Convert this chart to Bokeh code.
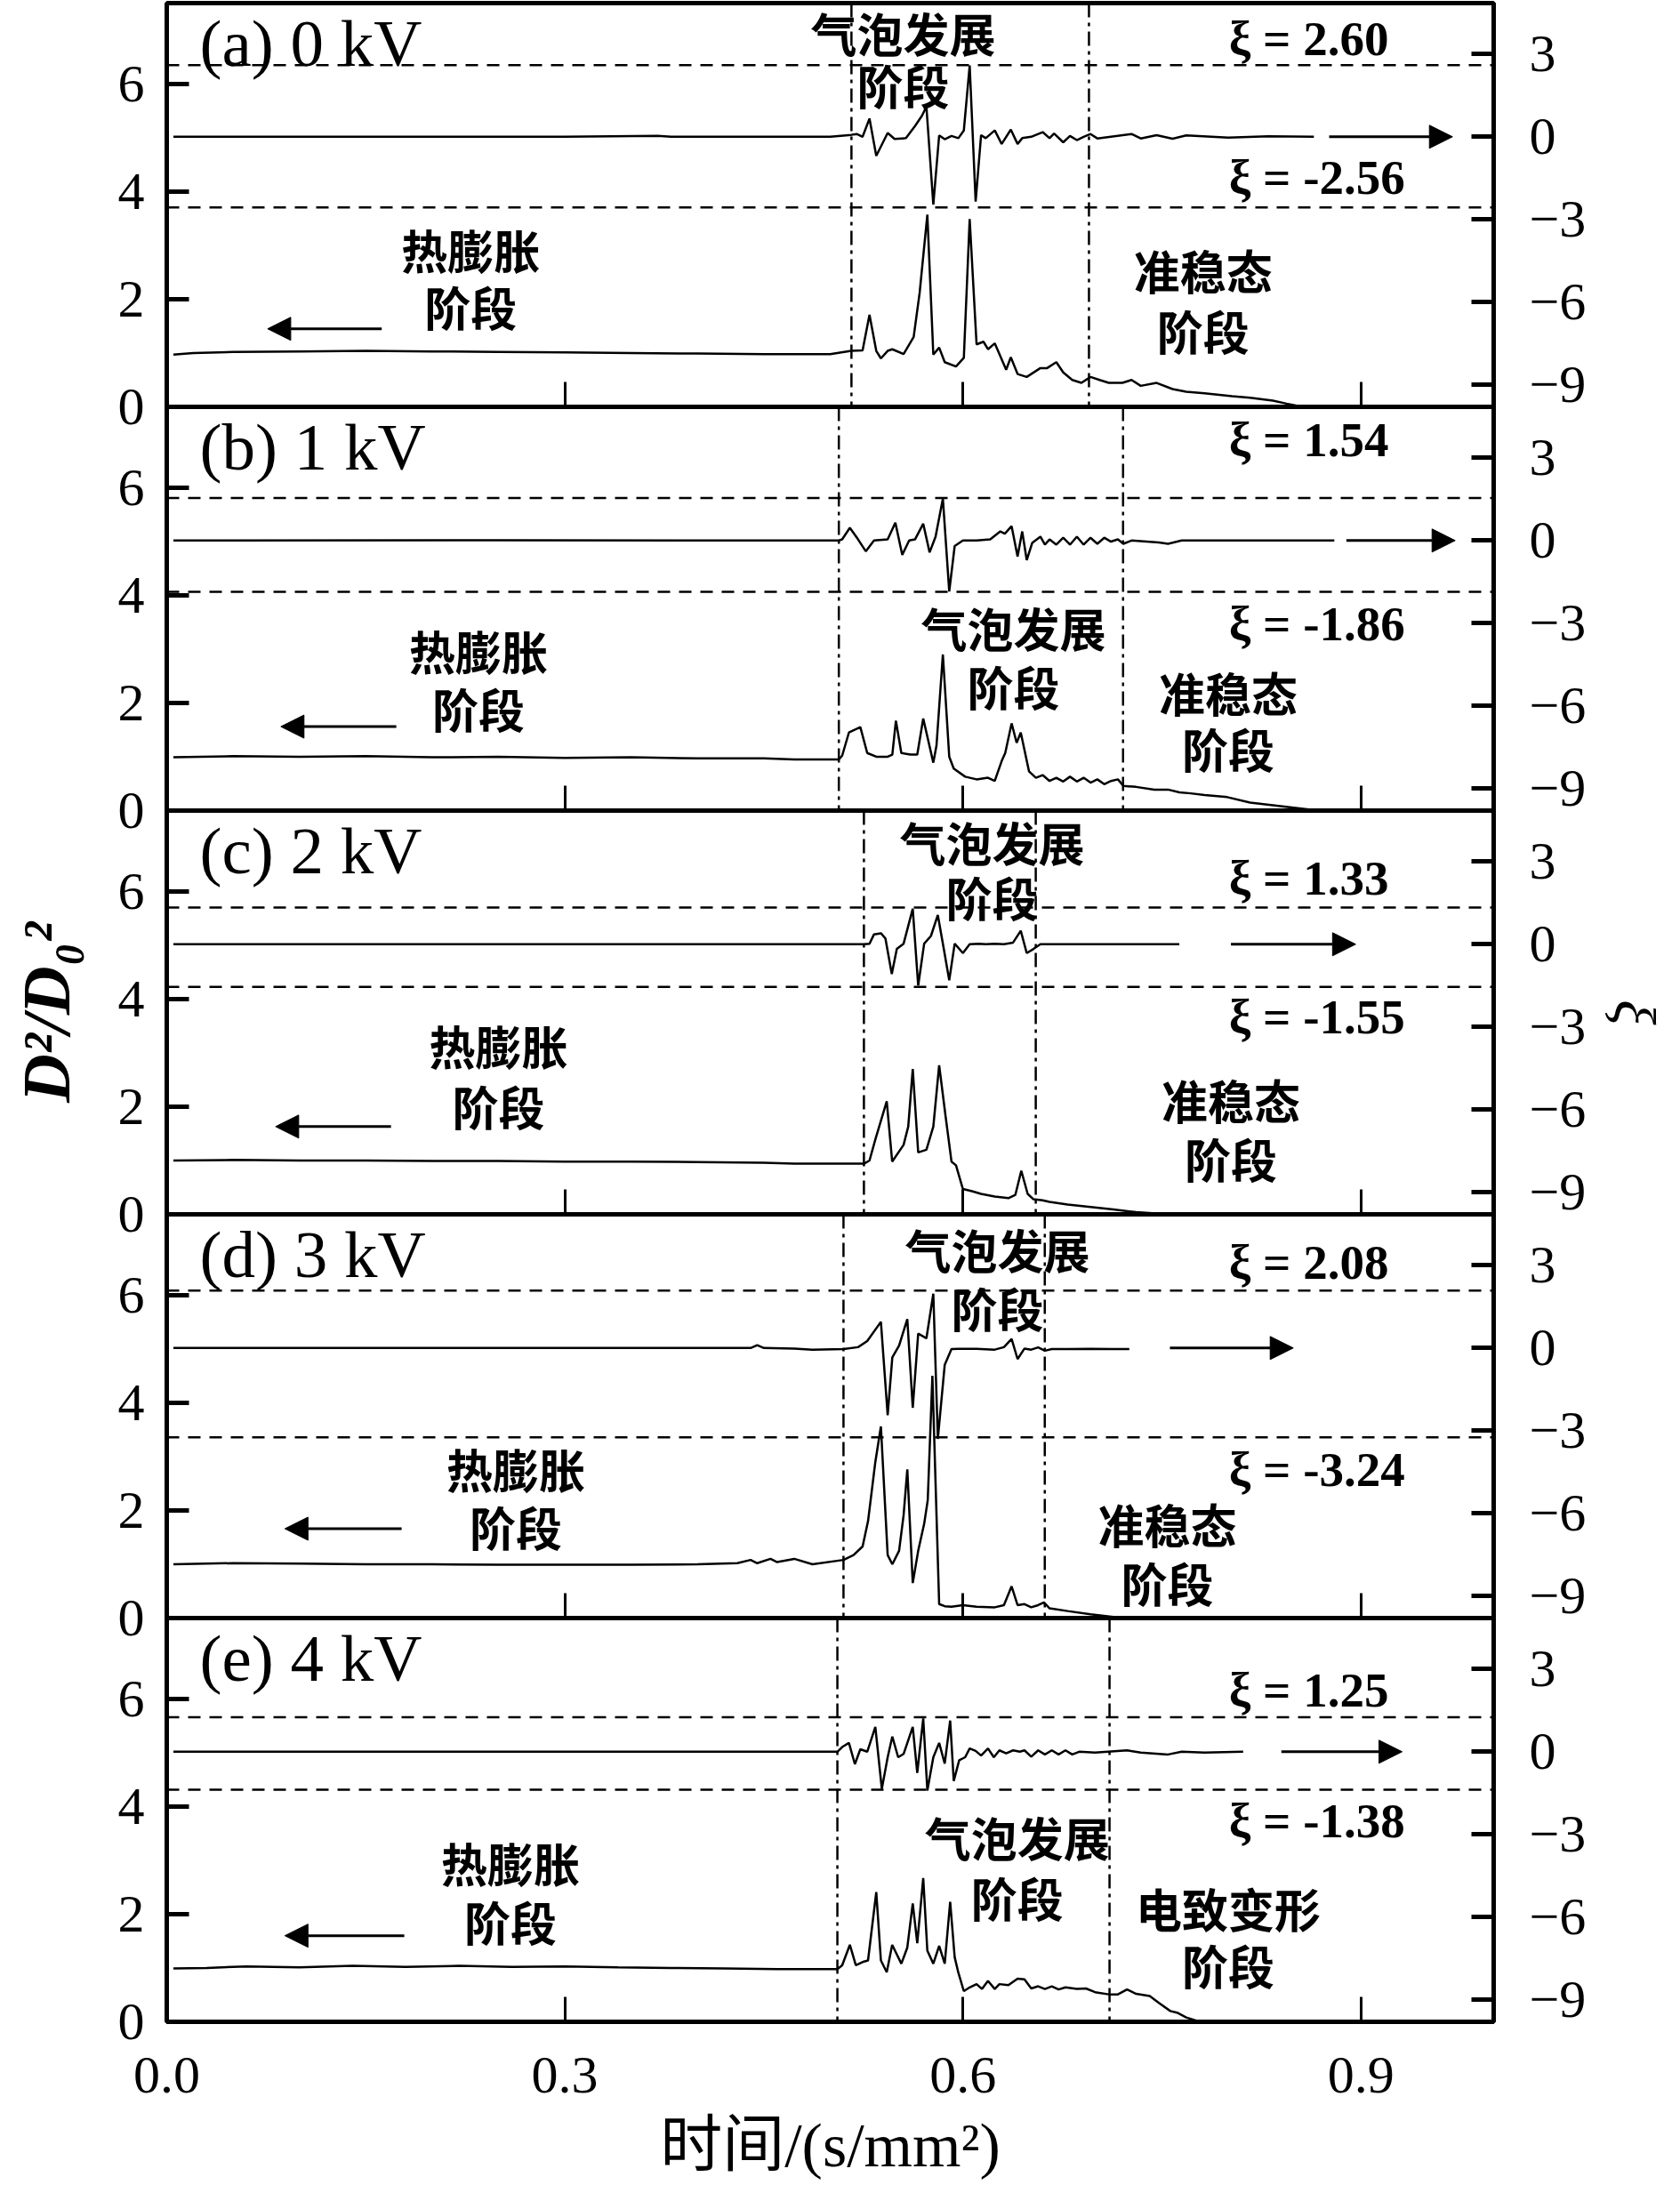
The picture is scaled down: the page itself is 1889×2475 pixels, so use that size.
from bokeh.plotting import figure
from bokeh.models import (Range1d, LinearAxis, FixedTicker, Span, Arrow, NormalHead,
                          CustomJSTickFormatter, NumeralTickFormatter)
from bokeh.layouts import column
from bokeh.embed import file_html
from bokeh.resources import INLINE
from bokeh.core.properties import value

# ---------------- data (time, value) ----------------
panel_titles = ["(a) 0 kV", "(b) 1 kV", "(c) 2 kV", "(d) 3 kV", "(e) 4 kV"]

a_D = [(0.005, 0.97), (0.02, 1.00), (0.05, 1.02), (0.10, 1.03), (0.15, 1.04), (0.20, 1.03), (0.25, 1.02),
       (0.30, 1.01), (0.35, 1.00), (0.40, 0.99), (0.45, 0.98), (0.50, 0.98), (0.5158, 1.04), (0.5244, 1.05),
       (0.5296, 1.71), (0.5347, 1.04), (0.5382, 0.90), (0.5433, 1.04), (0.5468, 1.07), (0.5553, 0.98),
       (0.5629, 1.30), (0.5674, 2.12), (0.5732, 3.57), (0.5777, 0.97), (0.5821, 1.10), (0.5863, 0.83),
       (0.5948, 0.75), (0.6007, 0.91), (0.6051, 3.49), (0.6103, 1.16), (0.6155, 1.21), (0.6189, 1.07),
       (0.6240, 1.18), (0.6326, 0.69), (0.6361, 0.92), (0.6412, 0.61), (0.6481, 0.555), (0.6584, 0.72),
       (0.6635, 0.72), (0.6704, 0.83), (0.6756, 0.64), (0.6824, 0.50), (0.6893, 0.445), (0.6962, 0.555),
       (0.7030, 0.50), (0.7099, 0.445), (0.7202, 0.445), (0.7271, 0.50), (0.7340, 0.39), (0.7460, 0.445),
       (0.7580, 0.33), (0.7683, 0.28), (0.7821, 0.25), (0.8027, 0.20), (0.8164, 0.17), (0.8336, 0.115),
       (0.8439, 0.06), (0.8542, 0.01), (0.8610, 0.0)]
a_xi = [(0.005, 0.0), (0.30, 0.0), (0.37, 0.03), (0.38, 0.0), (0.50, 0.0), (0.5158, 0.07), (0.5200, 0.10),
        (0.5244, 0.0), (0.5296, 0.66), (0.5347, -0.69), (0.5433, 0.14), (0.5485, -0.08), (0.5571, -0.05),
        (0.5639, 0.39), (0.5691, 0.76), (0.5725, 1.09), (0.5777, -2.46), (0.5821, 0.05), (0.5863, -0.09),
        (0.5914, 0.03), (0.5966, -0.05), (0.6007, 0.23), (0.6051, 2.59), (0.6096, -2.35), (0.6137, 0.06),
        (0.6172, -0.05), (0.6240, 0.23), (0.6292, -0.26), (0.6361, 0.26), (0.6412, -0.26), (0.6447, -0.05),
        (0.6515, 0.0), (0.6601, 0.17), (0.6653, -0.05), (0.6687, 0.12), (0.6756, -0.2), (0.6807, 0.03),
        (0.6859, -0.12), (0.6910, 0.0), (0.6962, 0.1), (0.7013, -0.06), (0.7271, 0.10), (0.7340, -0.06),
        (0.7460, 0.06), (0.7580, -0.07), (0.7683, 0.05), (0.80, -0.03), (0.83, 0.02), (0.8645, 0.0)]

b_D = [(0.005, 0.99), (0.05, 1.01), (0.10, 1.00), (0.15, 1.01), (0.20, 0.99), (0.25, 1.00), (0.30, 0.98),
       (0.35, 0.99), (0.40, 0.97), (0.45, 0.97), (0.4729, 0.95), (0.5065, 0.95), (0.5090, 1.02), (0.5141, 1.45),
       (0.5227, 1.55), (0.5279, 1.07), (0.5347, 1.00), (0.5433, 1.00), (0.5468, 1.04), (0.5495, 1.67),
       (0.5536, 1.07), (0.5605, 1.04), (0.5656, 1.04), (0.5701, 1.71), (0.5777, 0.89), (0.5801, 1.21),
       (0.5849, 2.90), (0.5897, 1.00), (0.5931, 0.78), (0.6017, 0.63), (0.6103, 0.58), (0.6189, 0.61),
       (0.6240, 0.55), (0.6292, 0.92), (0.6319, 1.07), (0.6367, 1.62), (0.6405, 1.26), (0.6436, 1.45),
       (0.6498, 0.73), (0.6550, 0.61), (0.6601, 0.66), (0.6653, 0.55), (0.6704, 0.61), (0.6756, 0.54),
       (0.6807, 0.63), (0.6859, 0.54), (0.6910, 0.61), (0.6962, 0.52), (0.7013, 0.58), (0.7065, 0.49),
       (0.7116, 0.55), (0.7168, 0.58), (0.7209, 0.46), (0.7305, 0.44), (0.7443, 0.39), (0.7546, 0.39),
       (0.7632, 0.34), (0.7717, 0.32), (0.7821, 0.29), (0.7992, 0.25), (0.8164, 0.15), (0.8336, 0.10),
       (0.8507, 0.05), (0.8679, 0.0)]
b_xi = [(0.005, 0.0), (0.25, 0.01), (0.4729, 0.0), (0.5065, 0.0), (0.5090, 0.04), (0.5148, 0.46), (0.5210, 0.04),
        (0.5268, -0.39), (0.5330, 0.0), (0.5433, 0.04), (0.5491, 0.65), (0.5543, -0.52), (0.5595, 0.0),
        (0.5639, 0.04), (0.5701, 0.61), (0.5749, -0.43), (0.5794, 0.14), (0.5849, 1.52), (0.5897, -1.85),
        (0.5938, -0.2), (0.6000, 0.0), (0.6103, 0.0), (0.6206, 0.04), (0.6282, 0.33), (0.6316, 0.25),
        (0.6367, 0.52), (0.6412, -0.58), (0.6447, 0.33), (0.6481, -0.71), (0.6522, -0.09), (0.6584, 0.14),
        (0.6618, -0.15), (0.6653, 0.04), (0.6704, -0.15), (0.6756, 0.1), (0.6807, -0.15), (0.6859, 0.14),
        (0.6910, -0.15), (0.6962, 0.1), (0.7013, -0.12), (0.7065, 0.1), (0.7116, -0.04), (0.7168, 0.04),
        (0.7209, -0.12), (0.7271, 0.0), (0.7477, -0.07), (0.7546, -0.12), (0.7649, 0.0), (0.80, 0.0),
        (0.8799, 0.0)]

c_D = [(0.005, 1.00), (0.05, 1.01), (0.10, 1.00), (0.15, 1.00), (0.20, 0.99), (0.25, 0.99), (0.30, 0.98),
       (0.35, 0.98), (0.40, 0.97), (0.45, 0.96), (0.4729, 0.94), (0.5254, 0.94), (0.5296, 1.00), (0.5340, 1.39),
       (0.5426, 2.10), (0.5467, 0.98), (0.5553, 1.29), (0.5588, 1.63), (0.5622, 2.70), (0.5663, 1.15),
       (0.5725, 1.20), (0.5777, 1.63), (0.5821, 2.77), (0.5869, 1.83), (0.5914, 0.98), (0.5948, 0.91),
       (0.6000, 0.47), (0.6069, 0.43), (0.6137, 0.38), (0.6240, 0.33), (0.6343, 0.30), (0.6395, 0.36),
       (0.6440, 0.81), (0.6488, 0.38), (0.6532, 0.28), (0.6601, 0.26), (0.6653, 0.23), (0.6790, 0.18),
       (0.6962, 0.135), (0.7134, 0.09), (0.7305, 0.04), (0.7550, 0.0)]
c_xi = [(0.005, 0.0), (0.30, 0.0), (0.4729, 0.0), (0.5254, 0.0), (0.5296, 0.02), (0.5330, 0.36), (0.5382, 0.40),
        (0.5416, 0.21), (0.5464, -1.08), (0.5502, -0.17), (0.5553, 0.02), (0.5622, 1.29), (0.5663, -1.50),
        (0.5708, 0.02), (0.5759, 0.30), (0.5811, 1.06), (0.5856, -0.17), (0.5897, -1.31), (0.5938, 0.02),
        (0.6000, -0.32), (0.6051, 0.0), (0.6120, 0.02), (0.6172, 0.0), (0.6240, 0.02), (0.6309, 0.0),
        (0.6378, 0.06), (0.6436, 0.49), (0.6481, -0.32), (0.6532, -0.17), (0.6584, 0.0), (0.6790, 0.0),
        (0.7134, 0.0), (0.7631, 0.0)]

d_D = [(0.005, 1.00), (0.05, 1.02), (0.10, 1.01), (0.15, 1.00), (0.20, 1.00), (0.25, 0.99), (0.30, 0.99),
       (0.35, 0.99), (0.40, 1.00), (0.43, 1.02), (0.44, 1.08), (0.445, 1.02), (0.455, 1.10), (0.46, 1.04),
       (0.4729, 1.10), (0.4866, 1.00), (0.5100, 1.08), (0.5176, 1.17), (0.5244, 1.33), (0.5285, 1.80),
       (0.5340, 2.90), (0.5382, 3.56), (0.5433, 1.17), (0.5468, 1.00), (0.5519, 1.25), (0.5553, 1.91),
       (0.5581, 2.76), (0.5622, 0.65), (0.5663, 1.25), (0.5708, 1.75), (0.5735, 2.19), (0.5770, 4.50),
       (0.5821, 0.26), (0.5863, 0.22), (0.5914, 0.21), (0.6000, 0.24), (0.6103, 0.21), (0.6240, 0.20),
       (0.6309, 0.24), (0.6367, 0.59), (0.6412, 0.24), (0.6464, 0.26), (0.6515, 0.20), (0.6567, 0.24),
       (0.6611, 0.29), (0.6653, 0.18), (0.6790, 0.13), (0.6962, 0.07), (0.7134, 0.02), (0.7168, 0.0)]
d_xi = [(0.005, 0.0), (0.30, 0.0), (0.44, 0.0), (0.445, 0.1), (0.45, 0.0), (0.4729, -0.02), (0.4866, -0.06),
        (0.5100, -0.04), (0.5210, 0.03), (0.5279, 0.25), (0.5382, 0.95), (0.5433, -2.44), (0.5468, -0.34),
        (0.5519, 0.09), (0.5581, 1.05), (0.5622, -2.17), (0.5663, 0.52), (0.5725, 0.35), (0.5777, 1.97),
        (0.5811, -3.30), (0.5863, -0.61), (0.5914, -0.04), (0.5966, -0.03), (0.6103, -0.03), (0.6240, -0.06),
        (0.6309, 0.03), (0.6367, 0.33), (0.6412, -0.40), (0.6464, -0.02), (0.6515, -0.06), (0.6567, 0.02),
        (0.6618, -0.1), (0.6670, -0.04), (0.6790, -0.04), (0.6962, -0.03), (0.7134, -0.04), (0.7254, -0.04)]

e_D = [(0.005, 0.99), (0.03, 1.00), (0.06, 1.03), (0.10, 1.01), (0.14, 1.04), (0.18, 1.02), (0.22, 1.04),
       (0.26, 1.02), (0.30, 1.03), (0.34, 1.01), (0.38, 1.00), (0.42, 0.99), (0.46, 0.98), (0.4729, 0.98),
       (0.5054, 0.98), (0.5090, 1.05), (0.5148, 1.43), (0.5193, 1.05), (0.5244, 1.11), (0.5285, 1.14),
       (0.5347, 2.41), (0.5382, 1.14), (0.5426, 0.92), (0.5467, 1.43), (0.5536, 1.08), (0.5581, 1.38),
       (0.5622, 2.20), (0.5656, 1.46), (0.5701, 2.67), (0.5732, 1.32), (0.5777, 1.08), (0.5821, 1.41),
       (0.5863, 1.08), (0.5904, 2.23), (0.5938, 1.20), (0.5966, 0.91), (0.6007, 0.57), (0.6051, 0.64),
       (0.6103, 0.70), (0.6144, 0.61), (0.6189, 0.76), (0.6240, 0.61), (0.6275, 0.70), (0.6343, 0.68),
       (0.6412, 0.80), (0.6464, 0.79), (0.6515, 0.62), (0.6567, 0.66), (0.6618, 0.61), (0.6670, 0.66),
       (0.6721, 0.60), (0.6773, 0.64), (0.6859, 0.61), (0.6927, 0.62), (0.6996, 0.55), (0.7099, 0.51),
       (0.7168, 0.51), (0.7237, 0.60), (0.7305, 0.52), (0.7408, 0.48), (0.7477, 0.35), (0.7563, 0.20),
       (0.7614, 0.17), (0.7683, 0.08), (0.7786, 0.0)]
e_xi = [(0.005, 0.0), (0.30, 0.0), (0.5054, 0.0), (0.5090, 0.17), (0.5141, 0.32), (0.5186, -0.45), (0.5227, 0.09),
        (0.5279, 0.0), (0.5340, 0.90), (0.5389, -1.35), (0.5433, -0.2), (0.5468, 0.55), (0.5512, -0.2),
        (0.5553, -0.08), (0.5622, 0.90), (0.5656, -0.77), (0.5701, 1.21), (0.5732, -1.41), (0.5777, -0.2),
        (0.5821, 0.32), (0.5863, -0.43), (0.5904, 1.13), (0.5931, -1.06), (0.5972, -0.31), (0.6017, -0.2),
        (0.6051, 0.12), (0.6096, 0.03), (0.6137, -0.14), (0.6189, 0.12), (0.6233, -0.2), (0.6275, 0.05),
        (0.6326, -0.06), (0.6378, 0.05), (0.6429, 0.0), (0.6464, 0.05), (0.6515, -0.18), (0.6567, 0.05),
        (0.6618, -0.1), (0.6670, 0.05), (0.6721, -0.1), (0.6773, 0.05), (0.6824, -0.1), (0.6876, 0.0),
        (0.6996, -0.03), (0.7237, 0.05), (0.7340, -0.03), (0.7546, -0.1), (0.7649, 0.0), (0.7821, -0.03),
        (0.8112, 0.0)]

D_series = [a_D, b_D, c_D, d_D, e_D]
xi_series = [a_xi, b_xi, c_xi, d_xi, e_xi]

# stage boundaries (time) and xi thresholds
stage_bounds = [(0.516, 0.695), (0.5065, 0.7207), (0.5254, 0.6549), (0.510, 0.6617), (0.5054, 0.7105)]
xi_limits = [(2.60, -2.56), (1.54, -1.86), (1.33, -1.55), (2.08, -3.24), (1.25, -1.38)]

x_ticks = [0.0, 0.3, 0.6, 0.9]
D_ticks = [0, 2, 4, 6]
xi_ticks = [-9, -6, -3, 0, 3]

# ---------------- annotation layout ----------------
xi_label_y = [(3.55, -1.48), (3.65, -3.03), (2.39, -2.63), (3.10, -4.42), (2.23, -2.50)]
stage_texts = [
    [("热膨胀", 0.229, 2.93), ("阶段", 0.229, 1.86), ("气泡发展", 0.555, 6.95), ("阶段", 0.555, 5.98),
     ("准稳态", 0.781, 2.54), ("阶段", 0.781, 1.42)],
    [("热膨胀", 0.235, 2.97), ("阶段", 0.235, 1.90), ("气泡发展", 0.638, 3.40), ("阶段", 0.638, 2.32),
     ("准稳态", 0.800, 2.19), ("阶段", 0.800, 1.15)],
    [("热膨胀", 0.250, 3.14), ("阶段", 0.250, 2.02), ("气泡发展", 0.622, 6.93), ("阶段", 0.622, 5.90),
     ("准稳态", 0.802, 2.13), ("阶段", 0.802, 1.04)],
    [("热膨胀", 0.263, 2.78), ("阶段", 0.263, 1.70), ("气泡发展", 0.626, 6.85), ("阶段", 0.626, 5.76),
     ("准稳态", 0.754, 1.75), ("阶段", 0.754, 0.66)],
    [("热膨胀", 0.259, 2.95), ("阶段", 0.259, 1.86), ("气泡发展", 0.641, 3.44), ("阶段", 0.641, 2.32),
     ("电致变形", 0.800, 2.11), ("阶段", 0.800, 1.05)],
]
left_arrows = [(0.162, 0.076, 1.45), (0.173, 0.086, 1.56), (0.169, 0.082, 1.63), (0.177, 0.089, 1.66),
               (0.179, 0.089, 1.60)]
right_arrows = [(0.876, 0.969), (0.889, 0.971), (0.802, 0.896), (0.756, 0.849), (0.840, 0.931)]

SERIF = "Liberation Serif"
CJK = "Noto Sans CJK SC"
OVERLAP = 45   # extra transparent border so tick labels at panel joints are not cut

x_range = Range1d(0, 1.0)
minus_fmt = CustomJSTickFormatter(code="return tick < 0 ? '\u2212' + Math.abs(tick) : String(tick);")

figs = []
n = len(panel_titles)
for i in range(n):
    first = (i == 0)
    last = (i == n - 1)
    p = figure(frame_width=1492, frame_height=454, x_range=x_range, y_range=Range1d(0, 7.5),
               output_backend="svg", toolbar_location=None,
               min_border_left=187, min_border_right=196,
               min_border_top=3 if first else OVERLAP,
               min_border_bottom=184 if last else OVERLAP,
               margin=(0, 0, 0, 0) if first else (-2 * OVERLAP, 0, 0, 0))
    p.extra_y_ranges = {"xi": Range1d(-9.8, 4.85)}
    p.grid.visible = False
    p.outline_line_color = "black"
    p.outline_line_width = 5
    p.outline_line_alpha = 1.0
    p.background_fill_color = None
    p.border_fill_color = None

    # left axis
    ya = p.yaxis[0]
    ya.ticker = FixedTicker(ticks=D_ticks)
    ya.major_tick_in = 25
    ya.major_tick_out = 0
    ya.major_tick_line_width = 5
    ya.minor_tick_line_color = None
    ya.axis_line_color = None
    ya.major_label_text_font = SERIF
    ya.major_label_text_font_size = "60px"
    ya.major_label_standoff = 25
    ya.major_label_text_color = "black"

    # right axis
    ra = LinearAxis(y_range_name="xi", ticker=FixedTicker(ticks=xi_ticks), formatter=minus_fmt)
    ra.major_tick_in = 25
    ra.major_tick_out = 0
    ra.major_tick_line_width = 5
    ra.minor_tick_line_color = None
    ra.axis_line_color = None
    ra.major_label_text_font = SERIF
    ra.major_label_text_font_size = "60px"
    ra.major_label_standoff = 40
    ra.major_label_text_color = "black"
    p.add_layout(ra, "right")

    # x axis
    xa = p.xaxis[0]
    xa.ticker = FixedTicker(ticks=x_ticks)
    xa.formatter = NumeralTickFormatter(format="0.0")
    xa.major_tick_in = 28
    xa.major_tick_out = 0
    xa.major_tick_line_width = 3
    xa.minor_tick_line_color = None
    xa.axis_line_color = None
    xa.major_label_text_font = SERIF
    if last:
        xa.major_label_text_color = "black"
        xa.major_label_text_font_size = "60px"
        xa.major_label_standoff = 40
        xa.axis_label = "时间/(s/mm²)"
        xa.axis_label_text_font = "'Liberation Serif', 'Noto Sans CJK SC'"
        xa.axis_label_text_font_style = "normal"
        xa.axis_label_text_font_size = "70px"
        xa.axis_label_standoff = 18
        xa.axis_label_text_color = "black"
    else:
        xa.major_label_text_font_size = "0px"
        xa.major_label_text_color = None
        xa.major_label_standoff = 0

    if i == 2:
        ya.axis_label = "D²/D₀²"
        ya.axis_label_text_font = SERIF
        ya.axis_label_text_font_style = "bold italic"
        ya.axis_label_text_font_size = "76px"
        ya.axis_label_standoff = 36
        ya.axis_label_text_color = "black"
        ra.axis_label = "ξ"
        ra.axis_label_text_font = SERIF
        ra.axis_label_text_font_style = "italic"
        ra.axis_label_text_font_size = "66px"
        ra.axis_label_standoff = 16
        ra.axis_label_text_color = "black"

    # stage boundaries
    for xb in stage_bounds[i]:
        p.add_layout(Span(location=xb, dimension="height", line_color="black",
                          line_width=2.5, line_dash="16 6 4 6"))
    # xi thresholds
    for lim in xi_limits[i]:
        p.add_layout(Span(location=lim, dimension="width", y_range_name="xi", line_color="black",
                          line_width=2.5, line_dash="14 10"))

    # curves
    tD = [t for t, _ in D_series[i]]
    vD = [v for _, v in D_series[i]]
    txi = [t for t, _ in xi_series[i]]
    vxi = [v for _, v in xi_series[i]]
    p.line(tD, vD, line_color="black", line_width=2.5)
    p.line(txi, vxi, line_color="black", line_width=2.5, y_range_name="xi")

    # arrows
    la = left_arrows[i]
    p.add_layout(Arrow(x_start=la[0], x_end=la[1], y_start=la[2], y_end=la[2], line_width=3,
                       line_color="black",
                       end=NormalHead(size=26, fill_color="black", line_color="black", line_width=1)))
    rr = right_arrows[i]
    p.add_layout(Arrow(x_start=rr[0], x_end=rr[1], y_start=0, y_end=0, y_range_name="xi", line_width=3,
                       line_color="black",
                       end=NormalHead(size=26, fill_color="black", line_color="black", line_width=1)))

    # panel title
    p.text(x=[0.0248], y=[6.75], text=[panel_titles[i]], text_font=value(SERIF), text_font_size="75px",
           text_align="left", text_baseline="alphabetic", text_color="black")

    # stage texts
    st = stage_texts[i]
    p.text(x=[s[1] for s in st], y=[s[2] for s in st], text=[s[0] for s in st], text_font=value(CJK),
           text_font_style="bold", text_font_size="52px", text_align="center", text_baseline="middle",
           text_color="black")

    # xi threshold labels
    hi, lo = xi_limits[i]
    p.text(x=[0.8005, 0.8005], y=list(xi_label_y[i]), y_range_name="xi",
           text=["ξ = %.2f" % hi, "ξ = %.2f" % lo], text_font=value(SERIF), text_font_style="bold",
           text_font_size="55px", text_align="left", text_baseline="middle", text_color="black")

    figs.append(p)

layout = column(*figs, spacing=0)
open("out.html", "w").write(file_html(layout, INLINE))
